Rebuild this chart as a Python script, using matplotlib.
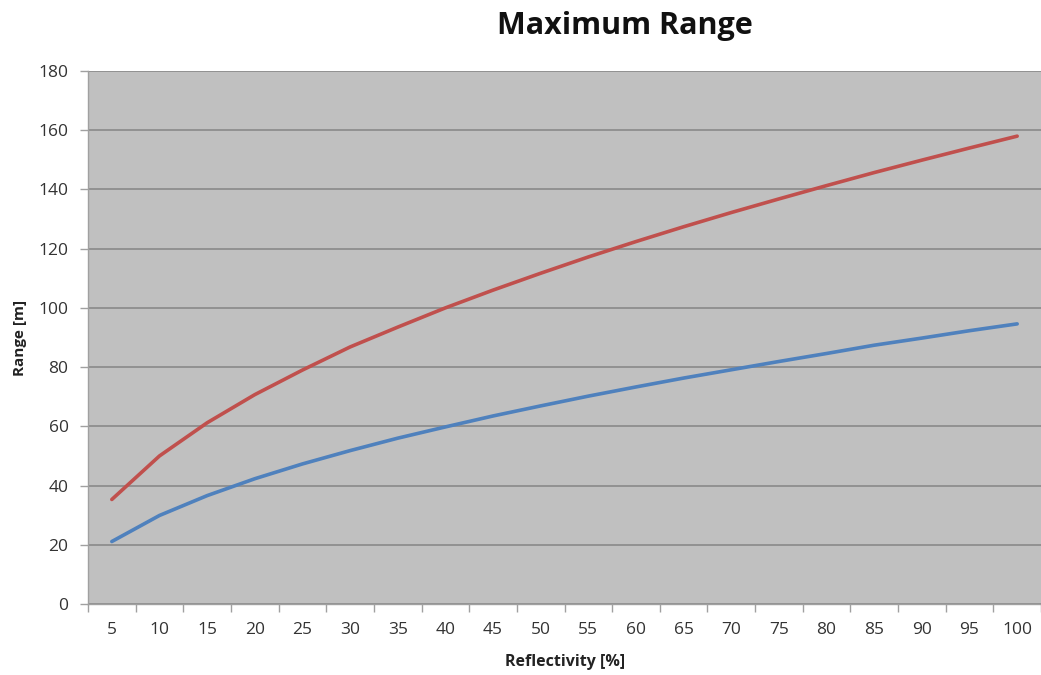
import numpy as np
import matplotlib.pyplot as plt

plt.rcParams['font.family'] = ['Open Sans', 'DejaVu Sans']

reflect = [5, 10, 15, 20, 25, 30, 35, 40, 45, 50, 55, 60, 65, 70, 75, 80, 85, 90, 95, 100]
range_red = [35.3, 50, 61.2, 70.7, 79, 86.8, 93.5, 100, 106, 111.7, 117.2, 122.4,
             127.4, 132.2, 136.8, 141.3, 145.7, 149.9, 154, 158]
range_blue = [21.1, 29.9, 36.6, 42.3, 47.3, 51.8, 56, 59.8, 63.5, 66.9, 70.2, 73.3,
              76.3, 79.1, 81.9, 84.6, 87.4, 89.8, 92.3, 94.6]

x = np.arange(len(reflect))

fig = plt.figure(figsize=(10.41, 6.75), dpi=100)
ax = fig.add_axes([88/1041, 71/675, 1 - 88/1041, (604-71)/675])
ax.set_facecolor('#c0c0c0')

ax.plot(x, range_red, color='#c0504d', lw=2.6, solid_capstyle='round')
ax.plot(x, range_blue, color='#4f81bd', lw=2.6, solid_capstyle='round')

ax.set_xlim(-0.5, len(reflect) - 0.5)
ax.set_ylim(0, 180)
ax.set_yticks(np.arange(0, 181, 20))
ax.set_xticks(x)
ax.set_xticklabels([str(r) for r in reflect])
ax.set_xticks(np.arange(-0.5, len(reflect), 1), minor=True)
ax.tick_params(axis='x', which='major', length=0, pad=13, labelsize=12.5, colors='#333333')
ax.tick_params(axis='x', which='minor', length=6, color='#a0a0a0', width=1)
ax.tick_params(axis='y', length=6, color='#a0a0a0', width=1, pad=8, labelsize=12.5, labelcolor='#333333')

ax.grid(axis='y', color='#8e8e8e', lw=1.3)
ax.set_axisbelow(True)
for s in ['top', 'right']:
    ax.spines[s].set_visible(False)
for s in ['left', 'bottom']:
    ax.spines[s].set_color('#a0a0a0')
    ax.spines[s].set_linewidth(1)

fig.text(625/1041, 1 - 26/675, 'Maximum Range', ha='center', va='center',
         fontsize=22, fontweight='bold', color='#111111')
fig.text(20/1041, 1 - 338/675, 'Range [m]', ha='center', va='center', rotation=90,
         fontsize=11, fontweight='bold', color='#222222')
fig.text(565/1041, 1 - 662/675, 'Reflectivity [%]', ha='center', va='center',
         fontsize=11.5, fontweight='bold', color='#222222')

fig.savefig('out.png', dpi=100)
